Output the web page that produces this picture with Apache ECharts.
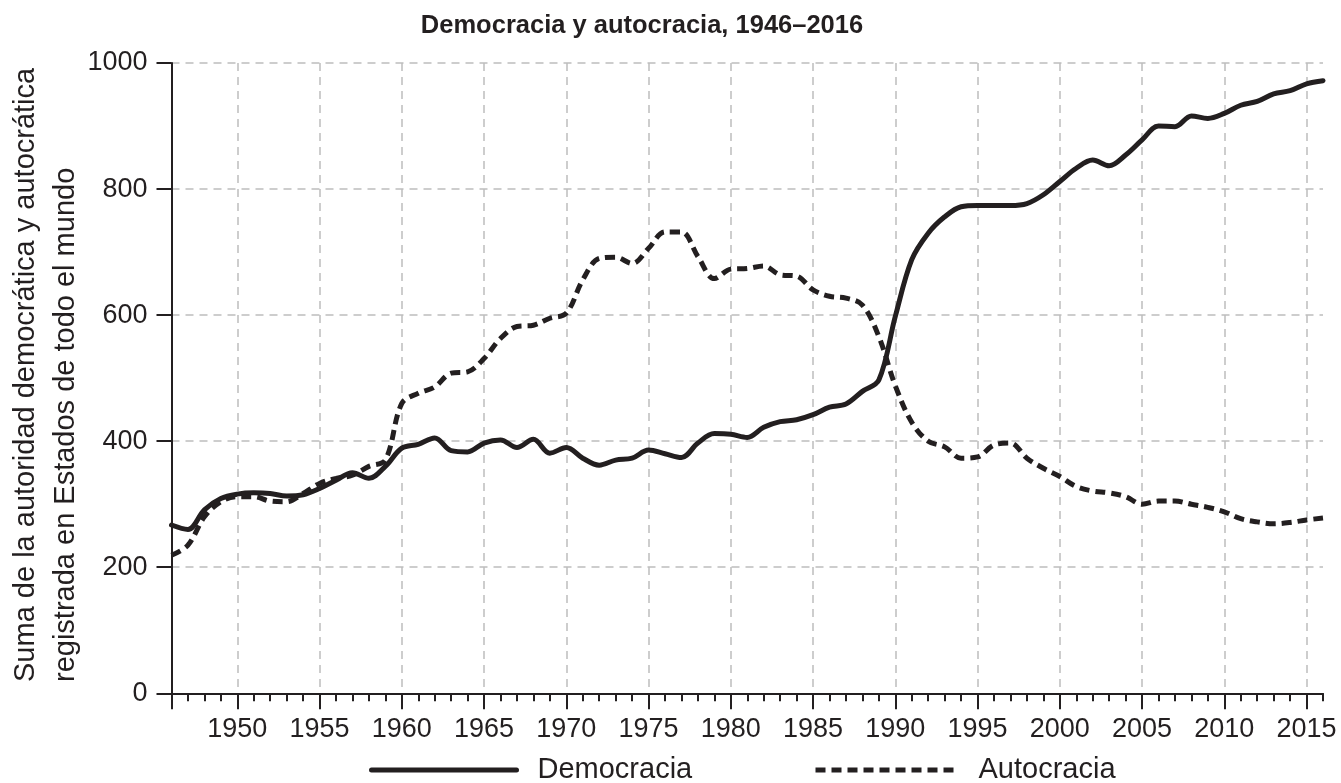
<!DOCTYPE html>
<html>
<head>
<meta charset="utf-8">
<script src="https://cdn.jsdelivr.net/npm/echarts@6/dist/echarts.min.js"></script>
<style>
html,body{margin:0;padding:0;background:#fff;}
#chart{width:1341px;height:783px;}
</style>
</head>
<body>
<div id="chart"></div>
<script>
const years = [];
for (let y = 1946; y <= 2016; y++) years.push(String(y));

const democracia = [
  267, 260, 291, 309, 316, 318, 317, 313, 315, 325,
  338, 350, 341, 360, 389, 395, 405, 385, 383, 397,
  402, 390, 403, 381, 390, 373, 362, 370, 373, 386,
  380, 374, 397, 412, 411, 406, 422, 431, 434, 442,
  454, 459, 479, 497, 598, 688, 730, 756, 772, 774,
  774, 774, 777, 791, 812, 833, 846, 837, 854, 878,
  900, 899, 916, 912, 920, 933, 939, 951, 956, 967,
  972
];

const autocracia = [
  219, 235, 280, 304, 312, 312, 305, 304, 317, 333,
  341, 346, 360, 370, 460, 476, 486, 508, 510, 531,
  563, 582, 584, 595, 603, 656, 690, 692, 682, 706,
  732, 732, 693, 658, 673, 674, 678, 664, 662, 640,
  630, 627, 616, 566, 488, 430, 400, 391, 373, 375,
  394, 397, 373, 357, 344, 328, 321, 318, 312, 300,
  305, 305, 300, 295, 288, 277, 272, 269, 271, 275,
  278
];

const yTicks = [0, 200, 400, 600, 800, 1000];
const titleText = 'Democracia y autocracia, 1946–2016';
const yTitleLines = ['Suma de la autoridad democrática y autocrática', 'registrada en Estados de todo el mundo'];
const seriesNames = ['Democracia', 'Autocracia'];

const INK = '#231f20';
const FONT = '"Liberation Sans", Arial, Helvetica, sans-serif';

const chart = echarts.init(document.getElementById('chart'));
const isMajor = (idx, val) => Number(val) % 5 === 0;

const legendBase = {
  top: 753, padding: 0, itemHeight: 14,
  itemStyle: { opacity: 0 },
  lineStyle: { width: 5, color: INK },
  textStyle: { fontSize: 29, color: INK, fontFamily: FONT, lineHeight: 34, padding: [0, 0, 0, 16] }
};

chart.setOption({
  animation: false,
  backgroundColor: '#fff',
  textStyle: { fontFamily: FONT, color: INK },
  grid: { left: 171.5, right: 18, top: 63, bottom: 89.7, containLabel: false },
  legend: [
    Object.assign({}, legendBase, { data: [seriesNames[0]], left: 369, itemWidth: 145 }),
    Object.assign({}, legendBase, { data: [seriesNames[1]], left: 813, itemWidth: 142 })
  ],
  xAxis: [
    {
      type: 'category', data: years, boundaryGap: false, position: 'bottom',
      axisLine: { show: true, onZero: false, lineStyle: { color: INK, width: 2 } },
      axisTick: { show: true, interval: 0, length: 8, lineStyle: { color: INK, width: 2 } },
      axisLabel: { interval: isMajor, fontSize: 27, color: INK, fontFamily: FONT, margin: 23 },
      splitLine: { show: true, interval: isMajor, lineStyle: { color: '#bdbdbd', width: 1.5, type: [8, 6] } }
    },
    {
      type: 'category', data: years, boundaryGap: false, position: 'bottom',
      axisLine: { show: false, onZero: false },
      axisTick: { show: true, interval: (idx, val) => idx === 0 || Number(val) % 5 === 0, length: 16, lineStyle: { color: INK, width: 2 } },
      axisLabel: { show: false },
      splitLine: { show: false }
    }
  ],
  yAxis: {
    type: 'value', min: yTicks[0], max: yTicks[yTicks.length - 1], interval: 200,
    axisLine: { show: true, lineStyle: { color: INK, width: 2 } },
    axisTick: { show: true, length: 15, lineStyle: { color: INK, width: 2 } },
    axisLabel: { fontSize: 27, color: INK, fontFamily: FONT, margin: 24, formatter: v => String(v) },
    splitLine: { show: true, lineStyle: { color: '#bdbdbd', width: 1.5, type: [8, 6] } }
  },
  graphic: [
    {
      type: 'text', x: 642, y: 26,
      style: { text: titleText, fontSize: 25.5, fontWeight: 'bold', fontFamily: FONT, fill: INK, textAlign: 'center', textVerticalAlign: 'middle' }
    },
    {
      type: 'text', x: 26, y: 682, rotation: Math.PI / 2,
      style: { text: yTitleLines[0], fontSize: 29, fontFamily: FONT, fill: INK, textAlign: 'left', textVerticalAlign: 'middle' }
    },
    {
      type: 'text', x: 66, y: 682, rotation: Math.PI / 2,
      style: { text: yTitleLines[1], fontSize: 29, fontFamily: FONT, fill: INK, textAlign: 'left', textVerticalAlign: 'middle' }
    }
  ],
  series: [
    {
      name: seriesNames[0], type: 'line', data: democracia, xAxisIndex: 0,
      smooth: 0.35, symbol: 'none', showSymbol: false,
      lineStyle: { color: INK, width: 5, type: 'solid', cap: 'round', join: 'round' },
      itemStyle: { color: INK }
    },
    {
      name: seriesNames[1], type: 'line', data: autocracia, xAxisIndex: 0,
      smooth: 0.35, symbol: 'none', showSymbol: false,
      lineStyle: { color: INK, width: 5, type: [10, 6] },
      itemStyle: { color: INK }
    }
  ]
});
</script>
</body>
</html>
